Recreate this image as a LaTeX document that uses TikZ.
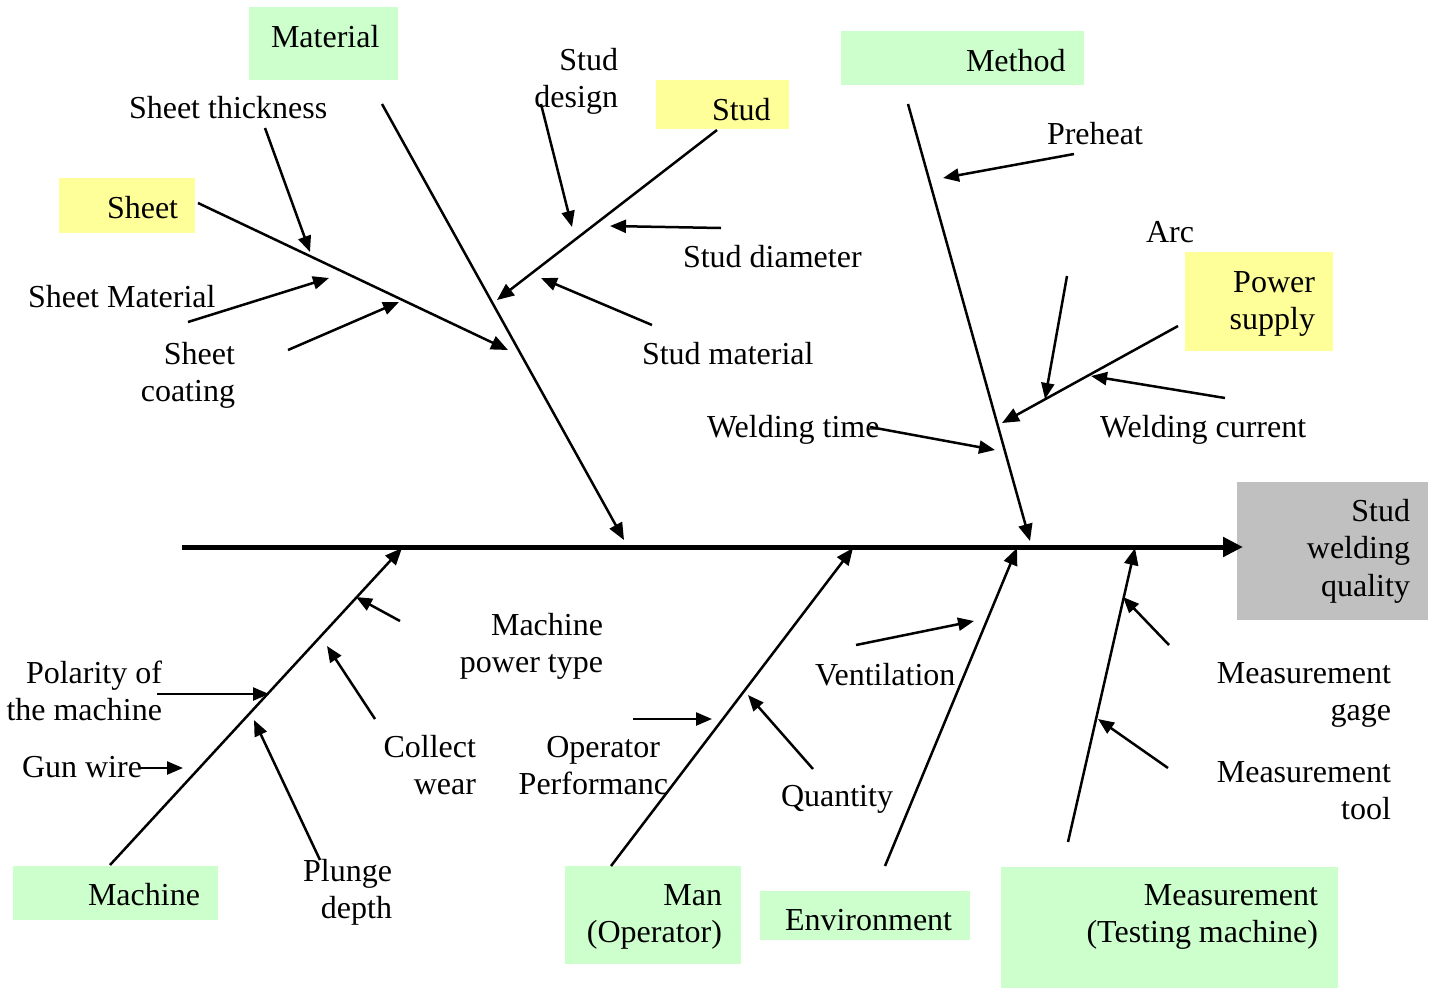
\documentclass[tikz,border=0pt]{standalone}
\usepackage{fontspec}
\setmainfont{Liberation Serif}
\usetikzlibrary{arrows.meta}
\definecolor{boxgreen}{HTML}{CCFFCC}
\definecolor{boxyellow}{HTML}{FFFF99}
\definecolor{boxgray}{HTML}{C0C0C0}
\newcommand{\RL}[1]{\vtop{\halign{\hfil##\cr#1\crcr}}}
\begin{document}
\begin{tikzpicture}[x=1pt,y=-1pt,
  every node/.style={inner sep=0pt, outer sep=0pt, font=\fontsize{32}{37.5}\selectfont},
  cbox/.style={rectangle, draw=none, anchor=north west},
  lbl/.style={anchor=base west},
  rlbl/.style={anchor=base east},
  bone/.style={line width=2.5pt, -{Triangle[length=17pt,width=14pt]}},
  twig/.style={line width=2.5pt, -{Triangle[length=16pt,width=13pt]}},
  spine/.style={line width=5pt, -{Triangle[length=20pt,width=19pt]}}]
\useasboundingbox (0,0) rectangle (1435,989);

% category boxes
\node[cbox, fill=boxgreen, minimum width=149pt, minimum height=73pt] (matbox) at (249,7) {};
\node[cbox, fill=boxyellow, minimum width=136pt, minimum height=55pt] (sheetbox) at (59,178) {};
\node[cbox, fill=boxyellow, minimum width=133pt, minimum height=49pt] (studbox) at (656,80) {};
\node[cbox, fill=boxgreen, minimum width=243pt, minimum height=54pt] (methbox) at (841,31) {};
\node[cbox, fill=boxyellow, minimum width=148pt, minimum height=99pt] (powbox) at (1185,252) {};
\node[cbox, fill=boxgray, minimum width=191pt, minimum height=138pt] (qualbox) at (1237,482) {};
\node[cbox, fill=boxgreen, minimum width=205pt, minimum height=54pt] (machbox) at (13,866) {};
\node[cbox, fill=boxgreen, minimum width=176pt, minimum height=98pt] (manbox) at (565,866) {};
\node[cbox, fill=boxgreen, minimum width=210pt, minimum height=49pt] (envbox) at (760,891) {};
\node[cbox, fill=boxgreen, minimum width=337pt, minimum height=121pt] (measbox) at (1001,867) {};

% box texts
\node[lbl] (matlbl) at (271,47) {Material};
\node[lbl] (sheetlbl) at (107,218) {Sheet};
\node[lbl] (studlbl) at (712,120) {Stud};
\node[lbl] (methlbl) at (966,71) {Method};
\node[rlbl] (powlbl) at (1315,292) {\RL{Power\cr supply}};
\node[rlbl] (quallbl) at (1410,521) {\RL{Stud\cr welding\cr quality}};
\node[lbl] (machlbl) at (88,905) {Machine};
\node[rlbl] (manlbl) at (722,905) {\RL{Man\cr (Operator)}};
\node[lbl] (envlbl) at (785,930) {Environment};
\node[rlbl] (measlbl) at (1318,905) {\RL{Measurement\cr (Testing machine)}};

% cause labels
\node[lbl] (tthick) at (129,118) {Sheet thickness};
\node[lbl] (tsmat) at (28,307) {Sheet Material};
\node[rlbl] (tscoat) at (235,364) {\RL{Sheet\cr coating}};
\node[rlbl] (tsdes) at (618,70) {\RL{Stud\cr design}};
\node[lbl] (tsdia) at (683,267) {Stud diameter};
\node[lbl] (tsmatl) at (642,364) {Stud material};
\node[lbl] (twtime) at (707,437) {Welding time};
\node[lbl] (tpre) at (1047,144) {Preheat};
\node[lbl] (tarc) at (1146,242) {Arc};
\node[lbl] (twcur) at (1100,437) {Welding current};
\node[rlbl] (tmpow) at (603,635) {\RL{Machine\cr power type}};
\node[rlbl] (tpol) at (162,683) {\RL{Polarity of\cr the machine}};
\node[lbl] (tgun) at (22,777) {Gun wire};
\node[rlbl] (tcoll) at (476,757) {\RL{Collect\cr wear}};
\node[rlbl] (tplun) at (392,881) {\RL{Plunge\cr depth}};
\node[rlbl] (topa) at (660,757) {Operator};
\node[rlbl] (topb) at (668,794) {Performanc};
\node[lbl] (tqty) at (781,806) {Quantity};
\node[lbl] (tvent) at (815,685) {Ventilation};
\node[rlbl] (tgage) at (1391,683) {\RL{Measurement\cr gage}};
\node[rlbl] (ttool) at (1391,782) {\RL{Measurement\cr tool}};

% spine
\coordinate (sp0) at (182,547);
\coordinate (sp1) at (1243,547);
\draw[spine] (sp0) -- (sp1);

% main bones
\coordinate (matA) at (382,104);   \coordinate (matB) at (624,540);
\coordinate (shA) at (198,203);    \coordinate (shB) at (508,350);
\coordinate (stA) at (717,130);    \coordinate (stB) at (497,300);
\coordinate (meA) at (908,104);    \coordinate (meB) at (1030,541);
\coordinate (psA) at (1178,326);   \coordinate (psB) at (1002,423);
\coordinate (maA) at (110,865);    \coordinate (maB) at (402,548);
\coordinate (mnA) at (611,866);    \coordinate (mnB) at (853,548);
\coordinate (enA) at (885,866);    \coordinate (enB) at (1017,548);
\coordinate (msA) at (1068,842);   \coordinate (msB) at (1135,548);
\draw[bone] (matA) -- (matB);
\draw[bone] (shA) -- (shB);
\draw[bone] (stA) -- (stB);
\draw[bone] (meA) -- (meB);
\draw[bone] (psA) -- (psB);
\draw[bone] (maA) -- (maB);
\draw[bone] (mnA) -- (mnB);
\draw[bone] (enA) -- (enB);
\draw[bone] (msA) -- (msB);

% sub causes
\coordinate (c1a) at (265,128);  \coordinate (c1b) at (310,252);
\coordinate (c2a) at (188,322);  \coordinate (c2b) at (329,278);
\coordinate (c3a) at (288,350);  \coordinate (c3b) at (399,302);
\coordinate (c4a) at (541,104);  \coordinate (c4b) at (572,227);
\coordinate (c5a) at (721,228);  \coordinate (c5b) at (610,226);
\coordinate (c6a) at (652,325);  \coordinate (c6b) at (541,278);
\coordinate (c7a) at (1074,154); \coordinate (c7b) at (943,178);
\coordinate (c8a) at (1067,276); \coordinate (c8b) at (1045,399);
\coordinate (c9a) at (1225,398); \coordinate (c9b) at (1091,376);
\coordinate (c10a) at (870,427); \coordinate (c10b) at (995,450);
\coordinate (c11a) at (400,621); \coordinate (c11b) at (356,597);
\coordinate (c12a) at (375,719); \coordinate (c12b) at (327,646);
\coordinate (c13a) at (157,694); \coordinate (c13b) at (269,694);
\coordinate (c14a) at (140,768); \coordinate (c14b) at (183,768);
\coordinate (c15a) at (320,860); \coordinate (c15b) at (254,720);
\coordinate (c16a) at (633,719); \coordinate (c16b) at (712,719);
\coordinate (c17a) at (813,769); \coordinate (c17b) at (748,695);
\coordinate (c18a) at (856,645); \coordinate (c18b) at (974,621);
\coordinate (c19a) at (1169,645); \coordinate (c19b) at (1123,597);
\coordinate (c20a) at (1168,768); \coordinate (c20b) at (1098,719);
\foreach \i in {1,...,20} {\draw[twig] (c\i a) -- (c\i b);}
\end{tikzpicture}
\end{document}
